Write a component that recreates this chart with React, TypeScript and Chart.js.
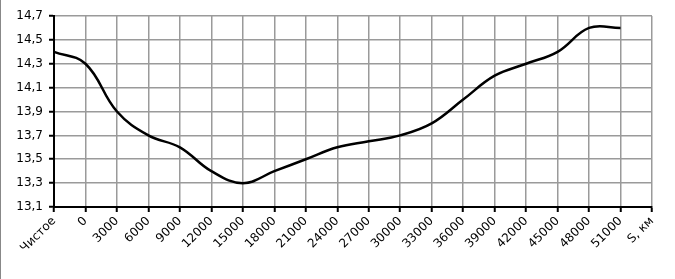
import React, { useEffect, useRef } from "react";
import { Chart, registerables } from "chart.js";

Chart.register(...registerables);

const categories = [
  "Чистое", "0", "3000", "6000", "9000", "12000", "15000", "18000", "21000", "24000",
  "27000", "30000", "33000", "36000", "39000", "42000", "45000", "48000", "51000", "S, км",
];
const values: (number | null)[] = [
  14.4, 14.3, 13.9, 13.7, 13.6, 13.4, 13.3, 13.4, 13.5, 13.6,
  13.65, 13.7, 13.8, 14.0, 14.2, 14.3, 14.4, 14.6, 14.6, null,
];
const yMin = 13.1;
const yMax = 14.7;
const yStep = 0.2;

export default function App() {
  const ref = useRef<HTMLCanvasElement | null>(null);
  useEffect(() => {
    if (!ref.current) return;
    const font = { family: "'DejaVu Sans', Verdana, sans-serif", size: 12 };
    const chart = new Chart(ref.current, {
      type: "line",
      data: {
        labels: categories,
        datasets: [
          {
            data: values,
            borderColor: "#000",
            borderWidth: 2.5,
            pointRadius: 0,
            tension: 0.4,
            fill: false,
          },
        ],
      },
      options: {
        animation: false,
        responsive: false,
        maintainAspectRatio: false,
        layout: { padding: { left: 0, top: 16, right: 23, bottom: 0 } },
        plugins: { legend: { display: false }, tooltip: { enabled: false } },
        scales: {
          x: {
            offset: false,
            grid: { color: "#9a9a9a", lineWidth: 1.5, tickColor: "#000", tickWidth: 2, tickLength: 5 },
            border: { color: "#000", width: 2 },
            ticks: {
              color: "#000",
              font,
              maxRotation: 45,
              minRotation: 45,
              autoSkip: false,
              padding: 2,
            },
            afterFit: (s: any) => {
              s.height = 72;
            },
          },
          y: {
            min: yMin,
            max: yMax,
            grid: { color: "#9a9a9a", lineWidth: 1.5, tickColor: "#000", tickWidth: 2, tickLength: 5 },
            border: { color: "#000", width: 2 },
            ticks: {
              stepSize: yStep,
              color: "#000",
              font,
              padding: 6,
              callback: (v: any) => Number(v).toFixed(1).replace(".", ","),
            },
            afterFit: (s: any) => {
              s.width = 54;
            },
          },
        },
      },
    });
    return () => chart.destroy();
  }, []);
  return (
    <div style={{ position: "fixed", left: 0, top: 0, width: 675, height: 279, background: "#fff" }}>
      <canvas ref={ref} width={675} height={279} style={{ display: "block" }} />
      <div style={{ position: "absolute", left: 0, top: 0, width: 1, height: 279, background: "#888" }} />
    </div>
  );
}
